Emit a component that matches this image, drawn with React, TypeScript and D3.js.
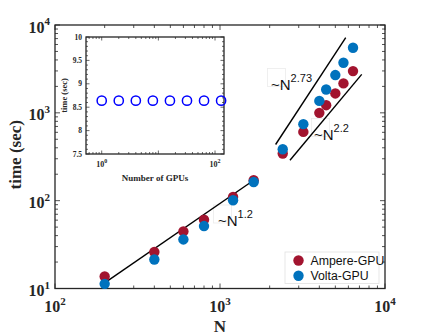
import React from 'react';
import * as d3 from 'd3';

// main plot data
const nValues = [200, 400, 600, 800, 1200, 1600, 2400, 3200, 4000, 4400, 5000, 5600, 6400];
const ampereTime = [13.7, 26, 44.7, 60.7, 110, 171, 344, 607, 1000, 1222, 1663, 2163, 2985];
const voltaTime = [11.3, 21.4, 36.2, 51.4, 101, 163, 385, 743, 1368, 1846, 2692, 3715, 5510];

// guide lines for the scaling annotations
const fit12N = [200, 1600];
const fit12T = [11.6, 171];
const fit273N = [2173, 5781];
const fit273T = [436, 7161];
const fit22N = [2655, 7227];
const fit22T = [288, 2742];

// inset data
const gpus = [1, 2, 4, 8, 16, 32, 64, 128];
const gpuTime = [8.64, 8.64, 8.64, 8.64, 8.64, 8.64, 8.64, 8.64];
const insetYTicks = [7.5, 8, 8.5, 9, 9.5, 10];

const seriesNames = ['Ampere-GPU', 'Volta-GPU'];
const seriesColors = ['#A2142F', '#0072BD'];

const serif = '"Liberation Serif", "Times New Roman", serif';
const sans = '"Liberation Sans", Arial, sans-serif';
const axisColor = '#262626';

const isPow10 = (v: number) => Math.abs(Math.log10(v) - Math.round(Math.log10(v))) < 1e-9;

function Pow10({x, y, exp, size, sup, anchor}: any) {
  return (
    <text x={x} y={y} fontFamily={serif} fontWeight="bold" fontSize={size} textAnchor={anchor} fill={axisColor}>
      10<tspan dy={-size * 0.45} fontSize={sup}>{exp}</tspan>
    </text>
  );
}

function Label({x, y, exp}: any) {
  return (
    <text x={x} y={y} fontFamily={sans} fontSize={15} fill="#111">
      ~N<tspan dy={-8} fontSize={11}>{exp}</tspan>
    </text>
  );
}

// faint leftover text-box outlines seen in the figure
const boxes = [[267.5, 68.5], [311.5, 118.5], [213.5, 205]];

export default function App() {
  const x = d3.scaleLog().domain([100, 10000]).range([55, 385]);
  const y = d3.scaleLog().domain([10, 10000]).range([288.5, 25]);
  const [x0, x1] = x.range();
  const [yb, yt] = y.range();

  const xi = d3.scaleLog().domain([0.528, 144]).range([86, 224]);
  const yi = d3.scaleLinear().domain([7.5, 10]).range([154, 37]);
  const [xi0, xi1] = xi.range();
  const [yib, yit] = yi.range();

  const xTicks = x.ticks();
  const yTicks = y.ticks();
  const xiTicks = xi.ticks();
  const yiMinor = d3.range(75, 101).map((v) => v / 10);

  const line = d3.line<[number, number]>().x((d) => x(d[0])).y((d) => y(d[1]));
  const fits = [
    [fit12N, fit12T],
    [fit273N, fit273T],
    [fit22N, fit22T],
  ];

  const series = [ampereTime, voltaTime];

  return (
    <svg width={425} height={335} style={{position: 'absolute', left: 0, top: 0}}>
      <rect width={425} height={335} fill="white" />

      {/* main axes ticks */}
      <g stroke={axisColor} strokeWidth={0.8}>
        {xTicks.map((t, i) => {
          const len = isPow10(t) ? 5 : 3;
          return (
            <g key={'xt' + i}>
              <line x1={x(t)} x2={x(t)} y1={yb} y2={yb - len} />
              <line x1={x(t)} x2={x(t)} y1={yt} y2={yt + len} />
            </g>
          );
        })}
        {yTicks.map((t, i) => {
          const len = isPow10(t) ? 5 : 3;
          return (
            <g key={'yt' + i}>
              <line x1={x0} x2={x0 + len} y1={y(t)} y2={y(t)} />
              <line x1={x1} x2={x1 - len} y1={y(t)} y2={y(t)} />
            </g>
          );
        })}
      </g>
      <rect x={x0} y={yt} width={x1 - x0} height={yb - yt} fill="none" stroke={axisColor} strokeWidth={1.3} />

      {xTicks.filter(isPow10).map((t) => (
        <Pow10 key={'xl' + t} x={x(t)} y={312} exp={Math.round(Math.log10(t))} size={16} sup={11} anchor="middle" />
      ))}
      {yTicks.filter(isPow10).map((t) => (
        <Pow10 key={'yl' + t} x={50} y={y(t) + 7.5} exp={Math.round(Math.log10(t))} size={16} sup={11} anchor="end" />
      ))}
      <text x={220} y={332} textAnchor="middle" fontFamily={serif} fontWeight="bold" fontSize={17} fill={axisColor}>N</text>
      <text transform={`translate(21,${(yt + yb) / 2 - 2}) rotate(-90)`} textAnchor="middle" fontFamily={serif} fontWeight="bold" fontSize={17} fill={axisColor}>time (sec)</text>

      {boxes.map((b, i) => (
        <rect key={'b' + i} x={b[0]} y={b[1]} width={18} height={18} fill="none" stroke="#ececec" strokeWidth={0.8} />
      ))}

      {/* fit lines */}
      {fits.map((f, i) => (
        <path key={'fit' + i} d={line(f[0].map((n, j) => [n, f[1][j]]) as [number, number][]) || ''} fill="none" stroke="black" strokeWidth={1.4} />
      ))}

      {/* data points */}
      {series.map((s, si) => (
        <g key={'s' + si} fill={seriesColors[si]}>
          {s.map((v, i) => (
            <circle key={i} cx={x(nValues[i])} cy={y(v)} r={5.2} />
          ))}
        </g>
      ))}

      <Label x={271} y={90} exp="2.73" />
      <Label x={314} y={140} exp="2.2" />
      <Label x={218} y={226} exp="1.2" />

      {/* legend */}
      <rect x={285} y={252} width={94} height={31.5} fill="white" stroke="#e0e0e0" strokeWidth={0.8} />
      {seriesNames.map((name, i) => (
        <g key={name}>
          <circle cx={298.5} cy={260.5 + i * 15.3} r={5.2} fill={seriesColors[i]} />
          <text x={310.5} y={264.8 + i * 15.3} fontFamily={sans} fontSize={12.3} fill="#111">{name}</text>
        </g>
      ))}

      {/* inset */}
      <rect x={xi0} y={yit} width={xi1 - xi0} height={yib - yit} fill="white" />
      <g stroke={axisColor} strokeWidth={0.7}>
        {xiTicks.map((t, i) => {
          const len = isPow10(t) ? 3.5 : 2;
          return (
            <g key={'xit' + i}>
              <line x1={xi(t)} x2={xi(t)} y1={yib} y2={yib - len} />
              <line x1={xi(t)} x2={xi(t)} y1={yit} y2={yit + len} />
            </g>
          );
        })}
        {yiMinor.map((t, i) => {
          const len = Math.abs(t * 2 - Math.round(t * 2)) < 1e-9 ? 3.5 : 2;
          return (
            <g key={'yit' + i}>
              <line x1={xi0} x2={xi0 + len} y1={yi(t)} y2={yi(t)} />
              <line x1={xi1} x2={xi1 - len} y1={yi(t)} y2={yi(t)} />
            </g>
          );
        })}
      </g>
      <rect x={xi0} y={yit} width={xi1 - xi0} height={yib - yit} fill="none" stroke={axisColor} strokeWidth={1.3} />
      {insetYTicks.map((t) => (
        <text key={'yil' + t} x={xi0 - 4} y={yi(t) + 2.5} textAnchor="end" fontFamily={serif} fontWeight="bold" fontSize={7.5} fill={axisColor}>{t}</text>
      ))}
      {xiTicks.filter(isPow10).filter((t) => t === 1 || t === 100).map((t) => (
        <Pow10 key={'xil' + t} x={xi(t)} y={167} exp={Math.round(Math.log10(t))} size={8} sup={6} anchor="middle" />
      ))}
      <text x={(xi0 + xi1) / 2} y={181} textAnchor="middle" fontFamily={serif} fontWeight="bold" fontSize={9} fill={axisColor}>Number of GPUs</text>
      <text transform={`translate(67,${(yit + yib) / 2}) rotate(-90)`} textAnchor="middle" fontFamily={serif} fontWeight="bold" fontSize={8.5} fill={axisColor}>time (sec)</text>
      {gpus.map((g, i) => (
        <circle key={'g' + i} cx={xi(g)} cy={yi(gpuTime[i])} r={4.6} fill="none" stroke="#0000FF" strokeWidth={1.5} />
      ))}
    </svg>
  );
}
